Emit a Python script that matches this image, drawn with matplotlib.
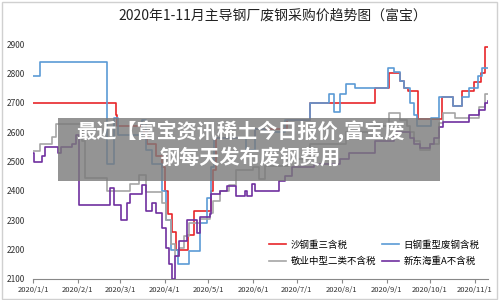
import matplotlib
matplotlib.use("Agg")
import matplotlib.pyplot as plt
import matplotlib.dates as mdates
from matplotlib.patches import Rectangle
import pandas as pd

plt.rcParams['font.family'] = ['Noto Sans CJK SC', 'DejaVu Sans']

title = "2020年1-11月主导钢厂废钢采购价趋势图（富宝）"
banner_lines = ["最近【富宝资讯稀土今日报价,富宝废", "钢每天发布废钢费用"]
series_names = ["沙钢重三含税", "日钢重型废钢含税", "敬业中型二类不含税", "新东海重A不含税"]

red_dates = ["2020-01-01", "2020-02-27", "2020-02-28", "2020-03-16", "2020-03-20", "2020-03-26",
             "2020-03-30", "2020-04-01", "2020-04-03", "2020-04-06", "2020-04-09", "2020-04-17",
             "2020-04-21", "2020-05-03", "2020-05-04", "2020-05-06", "2020-06-02", "2020-06-24",
             "2020-07-10", "2020-08-24", "2020-09-03", "2020-09-10", "2020-09-13", "2020-09-16",
             "2020-09-23", "2020-10-09", "2020-10-17", "2020-10-23", "2020-10-31", "2020-11-05",
             "2020-11-08", "2020-11-10"]
red_vals = [2700, 2660, 2620, 2600, 2560, 2520,
            2480, 2400, 2320, 2260, 2200, 2250,
            2330, 2400, 2470, 2580, 2610, 2640,
            2700, 2750, 2800, 2775, 2750, 2740,
            2645, 2720, 2690, 2740, 2770, 2800,
            2890, 2890]

blue_dates = ["2020-01-01", "2020-01-06", "2020-02-21", "2020-02-26", "2020-02-29", "2020-03-16",
              "2020-03-19", "2020-03-23", "2020-03-30", "2020-04-02", "2020-04-05", "2020-04-10",
              "2020-04-18", "2020-04-25", "2020-04-30", "2020-05-03", "2020-05-05", "2020-05-27",
              "2020-06-02", "2020-06-09", "2020-06-23", "2020-07-10", "2020-07-23", "2020-07-27",
              "2020-07-31", "2020-08-04", "2020-08-10", "2020-09-02", "2020-09-06", "2020-09-10",
              "2020-09-13", "2020-09-17", "2020-09-20", "2020-09-22", "2020-10-02", "2020-10-07",
              "2020-10-17", "2020-10-23", "2020-10-28", "2020-11-03", "2020-11-06", "2020-11-10"]
blue_vals = [2790, 2840, 2490, 2650, 2590, 2640,
             2540, 2490, 2400, 2300, 2200, 2150,
             2195, 2290, 2375, 2480, 2580, 2540,
             2612, 2600, 2640, 2700, 2730, 2670,
             2730, 2765, 2750, 2820, 2805, 2775,
             2750, 2700, 2660, 2620, 2650, 2720,
             2690, 2720, 2750, 2790, 2820, 2820]

gray_dates = ["2020-01-01", "2020-01-06", "2020-01-14", "2020-01-17", "2020-02-04", "2020-02-06",
              "2020-02-21", "2020-03-08", "2020-03-14", "2020-03-19", "2020-03-30", "2020-04-02",
              "2020-04-05", "2020-04-08", "2020-04-11", "2020-04-14", "2020-04-18", "2020-04-25",
              "2020-05-02", "2020-05-04", "2020-05-09", "2020-05-15", "2020-05-20", "2020-06-01",
              "2020-06-05", "2020-06-09", "2020-06-25", "2020-07-10", "2020-08-04", "2020-08-24",
              "2020-09-03", "2020-09-10", "2020-09-15", "2020-09-17", "2020-09-20", "2020-09-24",
              "2020-10-01", "2020-10-07", "2020-10-10", "2020-10-18", "2020-11-04", "2020-11-08",
              "2020-11-10"]
gray_vals = [2537, 2560, 2585, 2627, 2570, 2445,
             2400, 2425, 2455, 2395, 2360, 2300,
             2220, 2180, 2205, 2245, 2290, 2305,
             2325, 2365, 2400, 2420, 2470, 2480,
             2440, 2485, 2510, 2560, 2600, 2620,
             2665, 2643, 2620, 2600, 2570, 2540,
             2560, 2630, 2665, 2650, 2685, 2730,
             2730]

purple_dates = ["2020-01-01", "2020-01-02", "2020-01-07", "2020-01-09", "2020-01-18", "2020-01-20",
                "2020-01-28", "2020-01-31", "2020-02-02", "2020-02-23", "2020-02-26", "2020-03-02",
                "2020-03-06", "2020-03-08", "2020-03-16", "2020-03-19", "2020-03-23", "2020-03-26",
                "2020-03-30", "2020-04-02", "2020-04-04", "2020-04-06", "2020-04-08", "2020-04-11",
                "2020-04-16", "2020-04-23", "2020-04-25", "2020-05-02", "2020-05-03", "2020-05-09",
                "2020-05-14", "2020-05-20", "2020-05-26", "2020-05-28", "2020-05-31", "2020-06-02",
                "2020-06-19", "2020-06-23", "2020-06-28", "2020-07-13", "2020-07-31", "2020-08-06",
                "2020-08-24", "2020-09-06", "2020-09-17", "2020-09-20", "2020-09-24", "2020-10-01",
                "2020-10-04", "2020-10-07", "2020-10-10", "2020-10-28", "2020-11-04", "2020-11-08",
                "2020-11-10"]
purple_vals = [2530, 2497, 2520, 2548, 2530, 2548,
               2560, 2590, 2352, 2410, 2352, 2300,
               2360, 2390, 2420, 2330, 2360, 2325,
               2275, 2205, 2150, 2100, 2180, 2230,
               2300, 2257, 2310, 2320, 2390, 2400,
               2418, 2383, 2400, 2383, 2425, 2400,
               2435, 2452, 2480, 2490, 2510, 2530,
               2570, 2600, 2580, 2560, 2545, 2560,
               2580, 2617, 2633, 2657, 2675, 2700,
               2707]

y_ticks = [2100, 2200, 2300, 2400, 2500, 2600, 2700, 2800, 2900]
x_ticks = ["2020-01-01", "2020-02-01", "2020-03-01", "2020-04-01", "2020-05-01", "2020-06-01",
           "2020-07-01", "2020-08-01", "2020-09-01", "2020-10-01", "2020-11-01"]
x_tick_labels = ["2020/1/1", "2020/2/1", "2020/3/1", "2020/4/1", "2020/5/1", "2020/6/1",
                 "2020/7/1", "2020/8/1", "2020/9/1", "2020/10/1", "2020/11/1"]

colors = ["#E8262A", "#5B9BD5", "#A5A5A5", "#7030A0"]

fig = plt.figure(figsize=(5, 3), dpi=100)
fig.patch.set_facecolor("white")
fig.patches.append(Rectangle((0.004, 0.004), 0.99, 0.99, transform=fig.transFigure,
                             fill=False, edgecolor="#d0d0d0", lw=1.0))
ax = fig.add_axes([0.066, 0.07, 0.91, 0.783])

data = [(red_dates, red_vals), (blue_dates, blue_vals), (gray_dates, gray_vals), (purple_dates, purple_vals)]
handles = []
for (d, v), c, name in zip(data, colors, series_names):
    h, = ax.plot(pd.to_datetime(d), v, drawstyle="steps-post", color=c, lw=1.2, label=name)
    handles.append(h)

ax.set_ylim(2100, 2900)
ax.set_xlim(pd.Timestamp("2020-01-01"), pd.Timestamp("2020-11-10"))
ax.set_yticks(y_ticks)
ax.set_yticklabels([str(t) for t in y_ticks], fontsize=6, color="#333333")
ax.set_xticks(pd.to_datetime(x_ticks))
ax.set_xticklabels(x_tick_labels, fontsize=5.5, color="#333333")
ax.tick_params(axis="y", length=0, pad=6)
ax.tick_params(axis="x", length=3, color="#888888", pad=2, direction="out")
for s in ["top", "right", "left"]:
    ax.spines[s].set_visible(False)
ax.spines["bottom"].set_color("#888888")
ax.spines["bottom"].set_linewidth(0.8)

order = [0, 2, 1, 3]
leg = ax.legend([handles[i] for i in order], [series_names[i] for i in order],
                ncol=2, frameon=False, fontsize=6.8, loc="upper left",
                bbox_to_anchor=(0.528, 0.215), bbox_transform=fig.transFigure,
                borderpad=0, handlelength=1.8, handletextpad=0.5,
                columnspacing=0.6, labelspacing=0.75)

fig.text(0.546, 0.947, title, ha="center", va="center", fontsize=10, color="#222222")

# overlay banner
fig.patches.append(Rectangle((0.116, 0.397), 0.764, 0.21, transform=fig.transFigure,
                             facecolor="#7a7a7a", alpha=0.8, edgecolor="none", zorder=10))
fig.text(0.48, 0.56, banner_lines[0], ha="center", va="center", fontsize=14.5,
         color="white", fontweight="bold", zorder=11)
fig.text(0.5, 0.475, banner_lines[1], ha="center", va="center", fontsize=14.5,
         color="white", fontweight="bold", zorder=11)

fig.savefig("out.png", dpi=100)
